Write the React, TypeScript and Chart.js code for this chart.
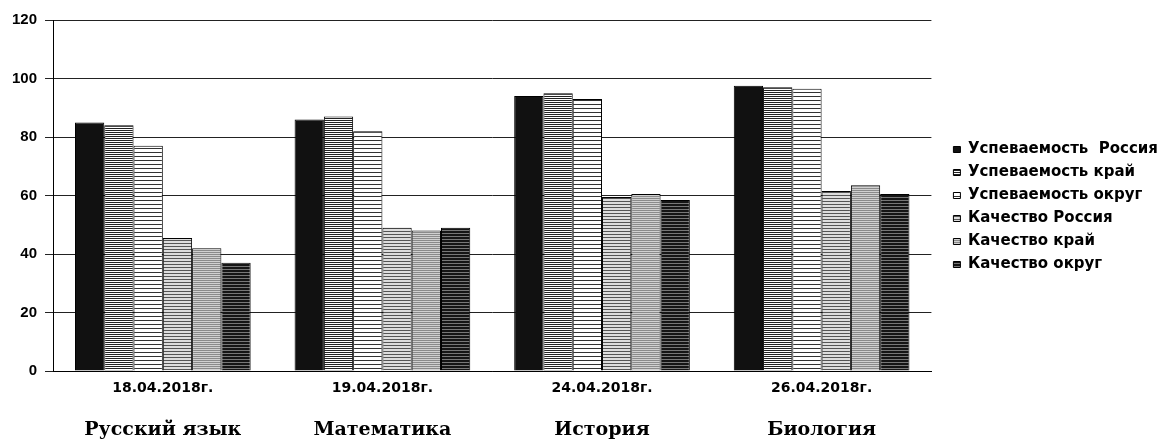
import React, { useEffect, useRef } from 'react';
import { Chart, registerables } from 'chart.js';

Chart.register(...registerables);

const dates = ['18.04.2018г.', '19.04.2018г.', '24.04.2018г.', '26.04.2018г.'];
const subjects = ['Русский язык', 'Математика', 'История', 'Биология'];
const seriesNames = [
  'Успеваемость  Россия',
  'Успеваемость край',
  'Успеваемость округ',
  'Качество Россия',
  'Качество край',
  'Качество округ',
];
const uspRossiya = [85, 86, 94, 97.5];
const uspKrai = [84, 87, 95, 97];
const uspOkrug = [77, 82, 93, 96.5];
const kachRossiya = [45.5, 49, 59.5, 61.5];
const kachKrai = [42, 48, 60.5, 63.5];
const kachOkrug = [37, 49, 58.5, 60.5];
const yTicks = [0, 20, 40, 60, 80, 100, 120];

function makePattern(bg: string, fg: string, period: number, lineH: number) {
  const c = document.createElement('canvas');
  c.width = 4;
  c.height = period;
  const ctx = c.getContext('2d')!;
  ctx.fillStyle = bg;
  ctx.fillRect(0, 0, 4, period);
  ctx.fillStyle = fg;
  ctx.fillRect(0, 0, 4, lineH);
  return ctx.createPattern(c, 'repeat')!;
}

export default function App() {
  const ref = useRef<HTMLCanvasElement>(null);

  useEffect(() => {
    document.body.style.margin = '0';
    document.body.style.overflow = 'hidden';
    const fills = [
      '#111111',
      makePattern('#ffffff', '#222222', 2, 1),
      makePattern('#ffffff', '#333333', 4, 1),
      makePattern('#dddddd', '#555555', 3, 1),
      makePattern('#d0d0d0', '#8a8a8a', 2, 1),
      makePattern('#777777', '#151515', 3, 2),
    ];
    const values = [uspRossiya, uspKrai, uspOkrug, kachRossiya, kachKrai, kachOkrug];
    const sansBold = (size: number) => ({ family: 'DejaVu Sans', weight: 'bold' as const, size });
    const chart = new Chart(ref.current!, {
      type: 'bar',
      data: {
        labels: dates,
        datasets: seriesNames.map((name, i) => ({
          label: name,
          data: values[i],
          backgroundColor: fills[i],
          borderColor: '#000',
          borderWidth: 1,
          categoryPercentage: 0.8,
          barPercentage: 1.0,
        })),
      },
      options: {
        responsive: true,
        maintainAspectRatio: false,
        animation: false,
        layout: { padding: { left: 4, top: 20, bottom: 0, right: 0 } },
        plugins: {
          tooltip: { enabled: false },
          legend: {
            position: 'right',
            align: 'start',
            maxWidth: 260,
            title: {
              display: true,
              text: ' ',
              color: 'rgba(0,0,0,0)',
              font: { size: 10 },
              padding: { top: 102, bottom: 0 },
            },
            labels: {
              color: '#000',
              boxWidth: 7,
              boxHeight: 6,
              padding: 8,
              font: sansBold(15),
            },
          },
        },
        scales: {
          x: {
            type: 'category',
            position: 'bottom',
            grid: { display: false, drawTicks: false },
            border: { display: true, color: '#000' },
            ticks: { color: '#000', font: sansBold(14), padding: 9, maxRotation: 0 },
            afterFit: (s: any) => {
              s.height = 30;
            },
          },
          x2: {
            type: 'category',
            position: 'bottom',
            labels: subjects,
            grid: { display: false, drawTicks: false },
            border: { display: false },
            ticks: {
              color: '#000',
              font: { family: 'DejaVu Serif', weight: 'bold', size: 19 },
              padding: 18,
              maxRotation: 0,
            },
            afterFit: (s: any) => {
              s.height = 40;
            },
          },
          y: {
            min: 0,
            max: 120,
            afterBuildTicks: (s: any) => {
              s.ticks = yTicks.map((v) => ({ value: v }));
            },
            ticks: {
              color: '#000',
              font: { family: 'Liberation Sans', weight: 'bold', size: 15 },
              padding: 8,
            },
            grid: { color: '#222', lineWidth: 1, tickLength: 8 },
            border: { display: true, color: '#000' },
          },
          yR: {
            position: 'right',
            display: true,
            grid: { display: false, drawTicks: false },
            border: { display: false },
            ticks: { display: false },
            afterFit: (s: any) => {
              s.width = 14;
            },
          },
        },
      },
    });
    return () => chart.destroy();
  }, []);

  return (
    <div style={{ width: 1168, height: 441, position: 'relative' }}>
      <canvas ref={ref} />
    </div>
  );
}
